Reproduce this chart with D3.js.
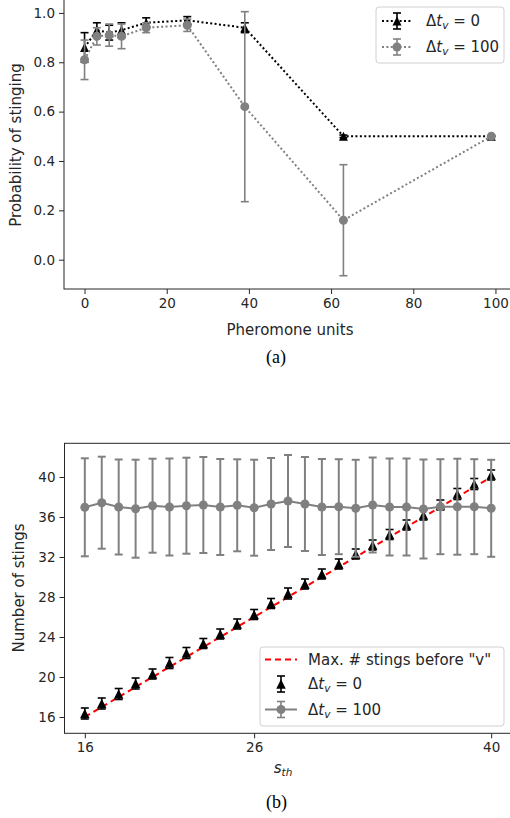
<!DOCTYPE html>
<html><head><meta charset="utf-8">
<script src="https://cdn.jsdelivr.net/npm/d3@7"></script>
<style>html,body{margin:0;padding:0;background:#fff;}svg{display:block;}</style>
</head><body>
<svg id="c" width="510" height="818"></svg>
<script>
// ---- Panel (a) data ----
const pheromoneUnits = [0, 3, 6, 9, 15, 25, 39, 63, 99];
const probDt0 = [0.86, 0.93, 0.92, 0.93, 0.96, 0.97, 0.94, 0.50, 0.50];
const probDt0Err = [0.06, 0.03, 0.03, 0.03, 0.02, 0.015, 0.02, 0.005, 0.0];
const probDt100 = [0.81, 0.905, 0.91, 0.905, 0.94, 0.95, 0.62, 0.16, 0.50];
const probDt100Err = [0.08, 0.035, 0.045, 0.05, 0.02, 0.025, 0.385, 0.225, 0.0];
const aXTicks = [0, 20, 40, 60, 80, 100];
const aYTicks = [0.0, 0.2, 0.4, 0.6, 0.8, 1.0];

// ---- Panel (b) data ----
const sth = [16,17,18,19,20,21,22,23,24,25,26,27,28,29,30,31,32,33,34,35,36,37,38,39,40];
const stingsDt0 = [16.35,17.35,18.3,19.35,20.3,21.4,22.4,23.35,24.3,25.3,26.25,27.35,28.35,29.3,30.3,31.3,32.3,33.2,34.25,35.2,36.2,37.2,38.3,39.3,40.2];
const stingsDt0Err = [0.55,0.55,0.55,0.55,0.5,0.55,0.55,0.5,0.5,0.5,0.5,0.5,0.55,0.5,0.5,0.5,0.5,0.5,0.5,0.5,0.5,0.5,0.55,0.55,0.5];
const stingsDt100 = [36.97,37.43,37.0,36.83,37.13,37.0,37.13,37.2,37.0,37.17,36.93,37.3,37.6,37.3,37.0,37.03,36.87,37.2,37.0,37.0,36.8,37.03,37.03,37.03,36.87];
const stingsDt100Err = [4.9,4.6,4.75,4.9,4.7,4.85,4.8,4.8,4.8,4.6,4.8,4.6,4.6,4.7,4.8,4.75,4.85,4.75,4.85,4.85,4.95,4.75,4.8,4.75,4.85];
const maxStings = [16, 40];
const bXTicks = [16, 26, 40];
const bYTicks = [16, 20, 24, 28, 32, 36, 40];

const svg = d3.select("#c");
const FONT = "DejaVu Sans, sans-serif";
const GRAY = "#808080";
const SPINE = "#262626";

function triPath(s){ const h=s/2; return `M0,${-h}L${h},${h}L${-h},${h}Z`; }

function errorBars(g, xs, ys, es, x, y, color, width, cap){
  xs.forEach((xv,i)=>{
    const cx = x(xv), y1 = y(ys[i]-es[i]), y2 = y(ys[i]+es[i]);
    g.append("line").attr("x1",cx).attr("x2",cx).attr("y1",y1).attr("y2",y2)
      .attr("stroke",color).attr("stroke-width",width);
    [y1,y2].forEach(yy=>g.append("line").attr("x1",cx-cap).attr("x2",cx+cap)
      .attr("y1",yy).attr("y2",yy).attr("stroke",color).attr("stroke-width",width));
  });
}

function frame(g, x, y, xt, yt, fmt){
  const [x0,x1] = x.range(), [y0,y1] = y.range();
  g.append("rect").attr("x",x0).attr("y",y1).attr("width",x1-x0).attr("height",y0-y1)
    .attr("fill","none").attr("stroke",SPINE).attr("stroke-width",1);
  const xa = g.append("g").attr("transform",`translate(0,${y0})`)
    .call(d3.axisBottom(x).tickValues(xt).tickSize(5).tickPadding(4).tickFormat(d3.format("d")));
  const ya = g.append("g").attr("transform",`translate(${x0},0)`)
    .call(d3.axisLeft(y).tickValues(yt).tickSize(5).tickPadding(4).tickFormat(fmt));
  [xa,ya].forEach(a=>{
    a.select(".domain").remove();
    a.selectAll("line").attr("stroke",SPINE);
    a.selectAll("text").attr("fill","#262626").attr("font-family",FONT).attr("font-size",13.5);
  });
}

function dtLabel(t, val){
  t.append("tspan").text("Δ");
  t.append("tspan").attr("font-style","italic").text("t");
  t.append("tspan").attr("font-style","italic").attr("font-size",10.5).attr("dy",3).text("v");
  t.append("tspan").attr("dy",-3).text(" = " + val);
}

// ================= Panel (a) =================
const xA = d3.scaleLinear().domain([-5,105]).range([64,516]);
const yA = d3.scaleLinear().domain([-0.1188,1.058]).range([289,-1.4]);
const gA = svg.append("g");

const lineA = d3.line().x((d,i)=>xA(pheromoneUnits[i])).y(d=>yA(d));
// black series
gA.append("path").datum(probDt0).attr("d",lineA).attr("fill","none")
  .attr("stroke","#000").attr("stroke-width",2).attr("stroke-dasharray","2 2.4");
errorBars(gA, pheromoneUnits, probDt0, probDt0Err, xA, yA, "#000", 1.6, 4);
gA.selectAll(".triA").data(probDt0).join("path").attr("d",triPath(9))
  .attr("transform",(d,i)=>`translate(${xA(pheromoneUnits[i])},${yA(d)})`).attr("fill","#000");
// gray series
gA.append("path").datum(probDt100).attr("d",lineA).attr("fill","none")
  .attr("stroke",GRAY).attr("stroke-width",2).attr("stroke-dasharray","2 2.4");
errorBars(gA, pheromoneUnits, probDt100, probDt100Err, xA, yA, GRAY, 1.6, 4);
gA.selectAll(".cirA").data(probDt100).join("circle")
  .attr("cx",(d,i)=>xA(pheromoneUnits[i])).attr("cy",d=>yA(d)).attr("r",4.5).attr("fill",GRAY);

frame(gA, xA, yA, aXTicks, aYTicks, d3.format(".1f"));
gA.append("text").attr("x",290).attr("y",335).attr("text-anchor","middle")
  .attr("font-family",FONT).attr("font-size",15).attr("fill","#262626").text("Pheromone units");
gA.append("text").attr("transform","translate(20.5,145) rotate(-90)").attr("text-anchor","middle")
  .attr("font-family",FONT).attr("font-size",15).attr("fill","#262626").text("Probability of stinging");

// legend (a)
const lgA = gA.append("g");
lgA.append("rect").attr("x",376).attr("y",7).attr("width",128).attr("height",56).attr("rx",3)
  .attr("fill","#fff").attr("fill-opacity",0.8).attr("stroke","#d0d0d0");
[[probDt0,"#000","0",21,"tri"],[probDt100,GRAY,"100",47,"cir"]].forEach(([_,c,v,yy,m])=>{
  lgA.append("line").attr("x1",382).attr("x2",412).attr("y1",yy).attr("y2",yy)
    .attr("stroke",c).attr("stroke-width",2).attr("stroke-dasharray","2 2.4");
  lgA.append("line").attr("x1",397).attr("x2",397).attr("y1",yy-8).attr("y2",yy+8).attr("stroke",c).attr("stroke-width",1.6);
  [yy-8,yy+8].forEach(q=>lgA.append("line").attr("x1",393).attr("x2",401).attr("y1",q).attr("y2",q).attr("stroke",c).attr("stroke-width",1.6));
  if(m==="tri") lgA.append("path").attr("d",triPath(9)).attr("transform",`translate(397,${yy})`).attr("fill",c);
  else lgA.append("circle").attr("cx",397).attr("cy",yy).attr("r",4.5).attr("fill",c);
  const t = lgA.append("text").attr("x",426).attr("y",yy+5).attr("font-family",FONT).attr("font-size",15).attr("fill","#262626");
  dtLabel(t, v);
});

svg.append("text").attr("x",276).attr("y",363).attr("text-anchor","middle")
  .attr("font-family","Liberation Serif, Times New Roman, serif").attr("font-size",18).attr("fill","#000").text("(a)");

// ================= Panel (b) =================
const xB = d3.scaleLinear().domain([14.8,41.2]).range([64.5,511.5]);
const yB = d3.scaleLinear().domain([14.37,43.37]).range([733.3,443.3]);
const gB = svg.append("g");

gB.append("line").attr("x1",xB(sth[0])).attr("x2",xB(sth[sth.length-1]))
  .attr("y1",yB(maxStings[0])).attr("y2",yB(maxStings[1]))
  .attr("stroke","#ff0000").attr("stroke-width",2).attr("stroke-dasharray","6 4");

errorBars(gB, sth, stingsDt0, stingsDt0Err, xB, yB, "#000", 1.6, 4);
gB.selectAll(".triB").data(stingsDt0).join("path").attr("d",triPath(9.5))
  .attr("transform",(d,i)=>`translate(${xB(sth[i])},${yB(d)})`).attr("fill","#000");

const lineB = d3.line().x((d,i)=>xB(sth[i])).y(d=>yB(d));
gB.append("path").datum(stingsDt100).attr("d",lineB).attr("fill","none").attr("stroke",GRAY).attr("stroke-width",2);
errorBars(gB, sth, stingsDt100, stingsDt100Err, xB, yB, GRAY, 2, 4);
gB.selectAll(".cirB").data(stingsDt100).join("circle")
  .attr("cx",(d,i)=>xB(sth[i])).attr("cy",d=>yB(d)).attr("r",4.5).attr("fill",GRAY);

frame(gB, xB, yB, bXTicks, bYTicks, d3.format("d"));
const sl = gB.append("text").attr("x",283).attr("y",773).attr("text-anchor","middle")
  .attr("font-family",FONT).attr("font-size",15).attr("fill","#262626");
sl.append("tspan").attr("font-style","italic").text("s");
sl.append("tspan").attr("font-style","italic").attr("font-size",10.5).attr("dy",3).text("th");
gB.append("text").attr("transform","translate(24,588) rotate(-90)").attr("text-anchor","middle")
  .attr("font-family",FONT).attr("font-size",15).attr("fill","#262626").text("Number of stings");

// legend (b)
const lgB = gB.append("g");
lgB.append("rect").attr("x",260).attr("y",647).attr("width",244).attr("height",79).attr("rx",3)
  .attr("fill","#fff").attr("fill-opacity",0.8).attr("stroke","#d0d0d0");
lgB.append("line").attr("x1",265).attr("x2",297).attr("y1",659.5).attr("y2",659.5)
  .attr("stroke","#ff0000").attr("stroke-width",2).attr("stroke-dasharray","6 4");
lgB.append("text").attr("x",308).attr("y",665).attr("font-family",FONT).attr("font-size",15).attr("fill","#262626")
  .text('Max. # stings before "v"');
// black entry
[[684,"#000"],[709.5,GRAY]].forEach(([yy,c],k)=>{
  if(k===1) lgB.append("line").attr("x1",265).attr("x2",297).attr("y1",yy).attr("y2",yy).attr("stroke",c).attr("stroke-width",2);
  lgB.append("line").attr("x1",281).attr("x2",281).attr("y1",yy-8).attr("y2",yy+8).attr("stroke",c).attr("stroke-width",1.6);
  [yy-8,yy+8].forEach(q=>lgB.append("line").attr("x1",277).attr("x2",285).attr("y1",q).attr("y2",q).attr("stroke",c).attr("stroke-width",1.6));
  if(k===0) lgB.append("path").attr("d",triPath(9.5)).attr("transform",`translate(281,${yy})`).attr("fill",c);
  else lgB.append("circle").attr("cx",281).attr("cy",yy).attr("r",4.5).attr("fill",c);
  const t = lgB.append("text").attr("x",308).attr("y",yy+5).attr("font-family",FONT).attr("font-size",15).attr("fill","#262626");
  dtLabel(t, k===0 ? "0" : "100");
});

svg.append("text").attr("x",276.5).attr("y",808).attr("text-anchor","middle")
  .attr("font-family","Liberation Serif, Times New Roman, serif").attr("font-size",18).attr("fill","#000").text("(b)");
</script>
</body></html>
